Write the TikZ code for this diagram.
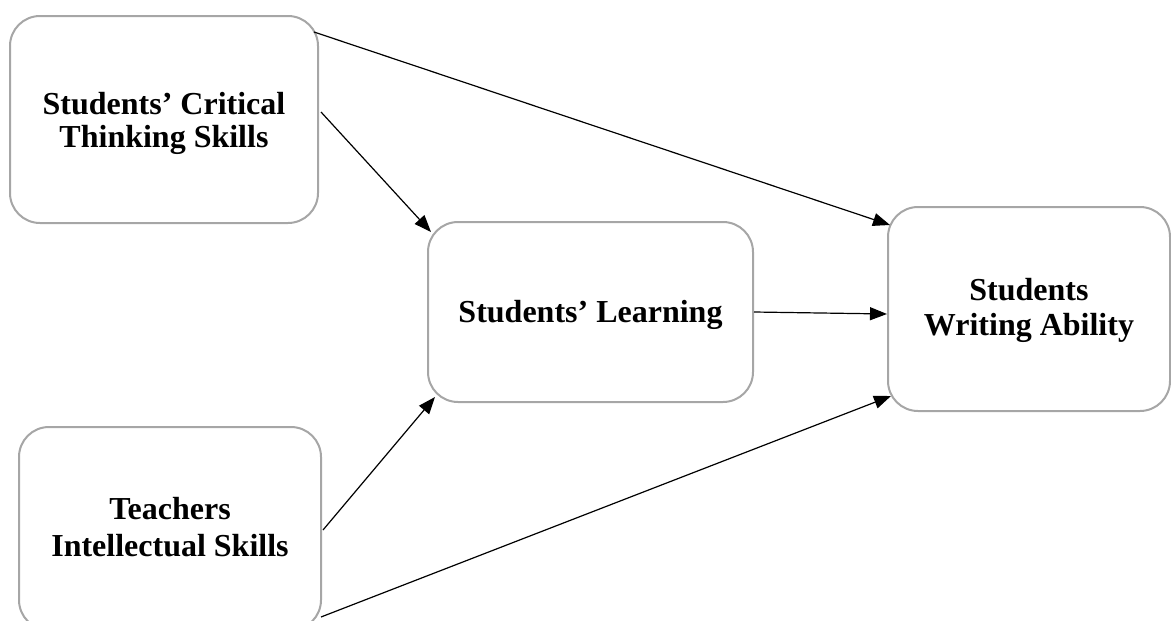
\documentclass[tikz,border=0pt]{standalone}
\usepackage{fontspec}
\setmainfont{Liberation Serif}
\usetikzlibrary{arrows.meta,calc}
\definecolor{boxgray}{HTML}{A6A6A6}
\begin{document}
\begin{tikzpicture}[x=1pt,y=-1pt,
  box/.style={draw=boxgray, line width=2pt, rounded corners=30pt, inner sep=0pt},
  txt/.style={align=center, inner sep=0pt, font=\fontsize{32}{#1}\selectfont\bfseries},
  txt/.default=35,
  conn/.style={line width=1.2pt, -{Triangle[length=17pt,width=13pt]}}]
\useasboundingbox (0,0) rectangle (1171,621);
\node[box, minimum width=308pt, minimum height=207pt,
  label={[txt=33, yshift=-4pt]center:{Students’ Critical\\Thinking Skills}}] (A) at (164,119.5) {};
\node[box, minimum width=325pt, minimum height=180pt,
  label={[txt, yshift=-3pt]center:{Students’ Learning}}] (B) at (590.5,312) {};
\node[box, minimum width=282pt, minimum height=204pt,
  label={[txt=35, yshift=-1pt]center:{Students\\Writing Ability}}] (C) at (1029,309) {};
\node[box, minimum width=302pt, minimum height=203pt,
  label={[txt=37, yshift=1pt]center:{Teachers\\Intellectual Skills}}] (D) at (170,528.5) {};
\draw[conn] ($(A.north east)+(-5,17)$) -- ($(C.north west)+(3,19)$);
\draw[conn] ($(A.east)+(2,-7.5)$) -- ($(B.north west)+(4,11)$);
\draw[conn] (B.east) -- ($(C.west)+(0,5)$);
\draw[conn] ($(D.east)+(1,1.5)$) -- ($(B.south west)+(8,-6)$);
\draw[conn] ($(D.south east)+(-1,-14)$) -- ($(C.south west)+(4,-16)$);
\end{tikzpicture}
\end{document}
